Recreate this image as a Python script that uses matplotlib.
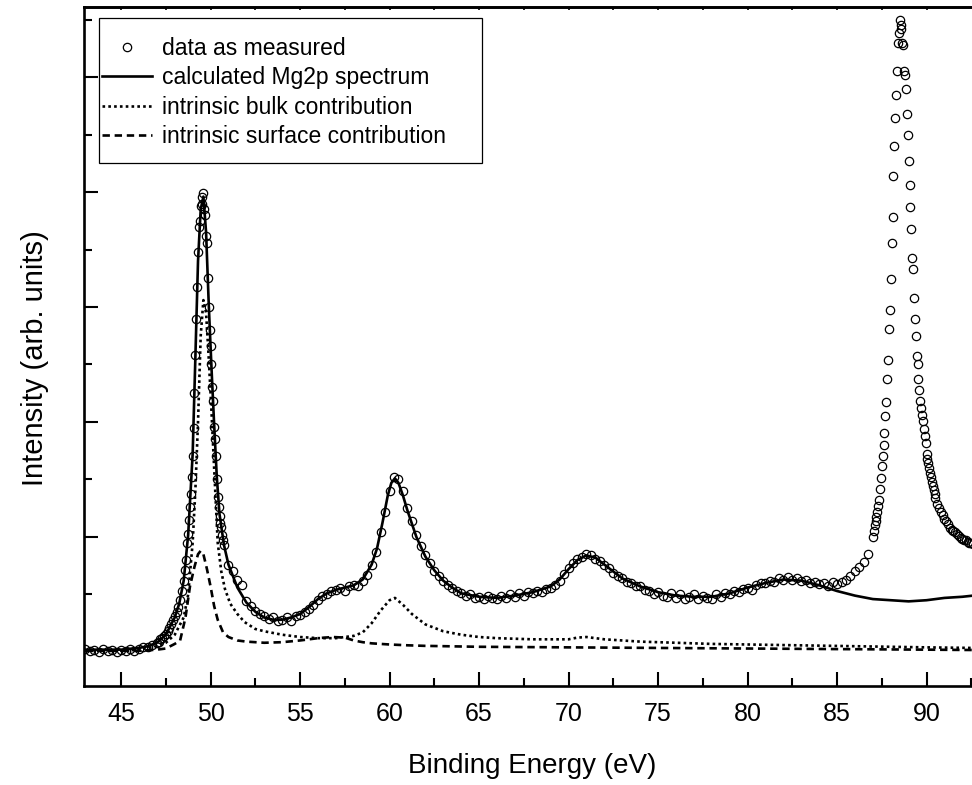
import numpy as np
import matplotlib
matplotlib.use("Agg")
import matplotlib.pyplot as plt
from matplotlib.patches import Rectangle

plt.rcParams['font.family'] = ['Liberation Sans', 'DejaVu Sans']

# measured spectrum (arb. units), sampled in segments
e_a = np.linspace(43.0, 46.75, 16)
i_a = [0.03, 0.01, 0.02, 0.00, 0.03, 0.01, 0.02, 0.00, 0.02, 0.01, 0.03, 0.01,
       0.03, 0.04, 0.04, 0.06]
e_b = np.linspace(47.0, 48.6, 17)
i_b = [0.08, 0.09, 0.11, 0.12, 0.14, 0.16, 0.18, 0.21, 0.24, 0.28, 0.31, 0.35,
       0.39, 0.45, 0.53, 0.62, 0.71]
e_c = np.linspace(48.65, 50.75, 43)
i_c = [0.80, 0.95, 1.03, 1.15, 1.26, 1.37, 1.52, 1.70, 1.95, 2.25, 2.58, 2.90,
       3.17, 3.48, 3.70, 3.75, 3.88, 3.90, 3.96, 3.99, 3.85, 3.80, 3.62, 3.56,
       3.25, 3.00, 2.80, 2.66, 2.50, 2.30, 2.18, 1.96, 1.85, 1.70, 1.50, 1.35,
       1.26, 1.18, 1.12, 1.09, 1.02, 0.97, 0.93]
e_d = np.linspace(51.0, 86.75, 144)
i_d = [0.76, 0.70, 0.63, 0.58,  0.44, 0.40, 0.36, 0.33,  0.31, 0.29, 0.30, 0.27,
       0.28, 0.30, 0.27, 0.31,  0.32, 0.35, 0.37, 0.41,  0.45, 0.49, 0.50, 0.53,
       0.54, 0.56, 0.53, 0.57,  0.58, 0.57, 0.62, 0.67,  0.76, 0.87, 1.04, 1.22,
       1.40, 1.52, 1.50, 1.40,  1.25, 1.14, 1.02, 0.92,  0.84, 0.77, 0.70, 0.66,
       0.62, 0.58, 0.56, 0.53,  0.51, 0.49, 0.50, 0.47,  0.48, 0.46, 0.49, 0.47,
       0.46, 0.49, 0.47, 0.50,  0.48, 0.51, 0.49, 0.52,  0.51, 0.53, 0.52, 0.55,
       0.56, 0.58, 0.62, 0.68,  0.73, 0.77, 0.81, 0.83,  0.85, 0.84, 0.81, 0.79,
       0.76, 0.73, 0.69, 0.66,  0.64, 0.61, 0.60, 0.57,  0.57, 0.54, 0.53, 0.50,
       0.52, 0.49, 0.48, 0.51,  0.47, 0.50, 0.46, 0.48,  0.50, 0.46, 0.49, 0.47,
       0.46, 0.50, 0.48, 0.51,  0.50, 0.53, 0.52, 0.55,  0.56, 0.54, 0.58, 0.60,
       0.60, 0.62, 0.61, 0.64,  0.63, 0.65, 0.63, 0.64,  0.62, 0.63, 0.60, 0.61,
       0.59, 0.60, 0.57, 0.61,  0.59, 0.61, 0.63, 0.66,  0.70, 0.74, 0.78, 0.85]
e_e = np.linspace(87.0, 90.5, 71)
i_e = [1.00, 1.05, 1.10, 1.14, 1.17, 1.22, 1.27, 1.32, 1.42, 1.51, 1.62, 1.70,
       1.80, 1.90, 2.05, 2.17, 2.37, 2.54, 2.81, 2.97,
       3.24, 3.56, 3.78, 4.14, 4.40, 4.64, 4.84, 5.05, 5.30, 5.38, 5.50, 5.45,
       5.42, 5.30, 5.28, 5.05, 5.02, 4.90, 4.68, 4.50,
       4.27, 4.06, 3.87, 3.68, 3.43, 3.33, 3.08, 2.90, 2.75, 2.57, 2.50, 2.37,
       2.28, 2.18, 2.12, 2.06, 2.01, 1.94, 1.88, 1.82,
       1.72, 1.68, 1.64, 1.60, 1.56, 1.52, 1.48, 1.44, 1.41, 1.37, 1.34]
e_f = np.linspace(90.6, 92.6, 21)
i_f = [1.29, 1.25, 1.22, 1.19, 1.16, 1.14, 1.11, 1.08, 1.06, 1.05, 1.04, 1.03,
       1.01, 0.99, 0.98, 0.97, 0.97, 0.96, 0.95, 0.95, 0.94]

energy = np.concatenate([e_a, e_b, e_c, e_d, e_e, e_f])
measured = np.concatenate([i_a, i_b, i_c, i_d, i_e, i_f])

# calculated Mg2p spectrum
fit_e = [43, 44, 45, 46, 46.5, 47, 47.5, 48, 48.25, 48.5, 48.75, 49.0, 49.15,
         49.3, 49.45, 49.6, 49.75, 49.9, 50.05, 50.2, 50.35, 50.5, 50.75, 51.0,
         51.5, 52, 52.5, 53, 53.5, 54, 54.5, 55, 55.5, 56, 56.5, 57, 57.5, 58,
         58.5, 59, 59.3, 59.6, 59.9, 60.1, 60.3, 60.5, 60.75, 61, 61.5, 62,
         62.5, 63, 63.5, 64, 65, 66, 67, 68, 69, 69.5, 70, 70.5, 71, 71.5, 72,
         72.5, 73, 74, 75, 76, 77, 78, 79, 80, 81, 82, 83, 84, 85, 86, 87, 88,
         89, 90, 91, 92, 92.6]
fit_i = [0.02, 0.02, 0.02, 0.035, 0.05, 0.08, 0.15, 0.30, 0.42, 0.62, 1.02, 1.72,
         2.55, 3.40, 3.85, 3.96, 3.65, 3.02, 2.48, 1.98, 1.52, 1.20, 0.93, 0.76,
         0.56, 0.43, 0.35, 0.30, 0.28, 0.28, 0.30, 0.33, 0.39, 0.46, 0.51, 0.54,
         0.56, 0.58, 0.63, 0.76, 0.90, 1.12, 1.36, 1.47, 1.51, 1.47, 1.36, 1.23,
         1.00, 0.83, 0.71, 0.62, 0.56, 0.51, 0.48, 0.47, 0.49, 0.52, 0.57, 0.63,
         0.72, 0.80, 0.84, 0.82, 0.76, 0.70, 0.64, 0.57, 0.52, 0.49, 0.48, 0.48,
         0.51, 0.56, 0.60, 0.63, 0.62, 0.58, 0.53, 0.49, 0.46, 0.45, 0.44, 0.45,
         0.47, 0.48, 0.49]

# intrinsic bulk contribution
bulk_e = [43, 45, 46, 47, 47.5, 48, 48.5, 48.75, 49.0, 49.15, 49.3, 49.45, 49.6,
          49.75, 49.9, 50.05, 50.2, 50.4, 50.6, 50.8, 51.1, 51.5, 51.9, 52.5,
          53, 54, 55, 56, 57, 58, 58.5, 59, 59.5, 60, 60.3, 60.75, 61.25, 62,
          63, 64, 65, 66, 68, 70, 70.5, 71, 71.5, 72, 74, 76, 78, 80, 82, 84,
          86, 88, 90, 92.6]
bulk_i = [0.01, 0.01, 0.02, 0.05, 0.08, 0.15, 0.30, 0.50, 0.95, 1.40, 2.00, 2.75,
          3.06, 2.95, 2.55, 2.10, 1.60, 0.95, 0.70, 0.55, 0.42, 0.33, 0.26, 0.20,
          0.18, 0.15, 0.13, 0.12, 0.12, 0.14, 0.17, 0.25, 0.36, 0.45, 0.47, 0.41,
          0.33, 0.24, 0.18, 0.15, 0.13, 0.12, 0.11, 0.11, 0.125, 0.13, 0.12, 0.11,
          0.09, 0.08, 0.07, 0.065, 0.06, 0.055, 0.05, 0.045, 0.04, 0.035]

# intrinsic surface contribution
surf_e = [43, 46, 47, 47.5, 48, 48.3, 48.6, 48.85, 49.1, 49.3, 49.45, 49.6, 49.8,
          50.0, 50.2, 50.4, 50.7, 51, 51.5, 52, 53, 54, 55, 56, 56.8, 57.5, 58,
          58.5, 59, 60, 61, 62, 65, 70, 75, 80, 85, 90, 92.6]
surf_i = [0.01, 0.01, 0.02, 0.03, 0.07, 0.10, 0.30, 0.57, 0.74, 0.85, 0.88, 0.85,
          0.72, 0.57, 0.40, 0.28, 0.17, 0.13, 0.10, 0.09, 0.08, 0.085, 0.10, 0.12,
          0.13, 0.125, 0.10, 0.085, 0.075, 0.065, 0.058, 0.053, 0.045, 0.04,
          0.035, 0.03, 0.025, 0.02, 0.017]

W, H = 972, 785
fig = plt.figure(figsize=(W / 100, H / 100), dpi=100)
ax = fig.add_axes([84 / W, 1 - 686 / H, (W - 84) / W, (686 - 7) / H])

ax.plot(energy, measured, 'o', ms=6, mfc='none', mec='black', mew=0.9,
        label='data as measured')
ax.plot(fit_e, fit_i, '-', color='black', lw=1.9,
        label='calculated Mg2p spectrum')
ax.plot(bulk_e, bulk_i, color='black', lw=1.9, ls=(0, (1, 1.2)),
        label='intrinsic bulk contribution')
ax.plot(surf_e, surf_i, color='black', lw=1.9, ls=(0, (2.8, 1.8)),
        label='intrinsic surface contribution')

ax.set_xlim(42.93, 92.54)
ax.set_ylim(-0.296, 5.609)
ax.set_xticks(np.arange(45, 91, 5))
ax.set_xticks(np.arange(47.5, 92.6, 5), minor=True)
ax.set_yticks(np.arange(1, 6, 1))
ax.set_yticks(np.arange(0.5, 5.6, 1), minor=True)
ax.tick_params(which='both', direction='in', top=False, right=False,
               labelleft=False, width=1.5, labelsize=18, pad=11.5)
ax.tick_params(which='major', length=10)
ax.tick_params(which='minor', length=5.8)
for side in ['left', 'bottom', 'top']:
    ax.spines[side].set_linewidth(1.9)
ax.spines['right'].set_visible(False)

top = ax.secondary_xaxis('top')
top.set_xticks(np.arange(45, 91, 2.5))
top.tick_params(direction='in', length=2.5, width=1.2, labeltop=False)
top.spines['top'].set_linewidth(1.9)

ax.set_xlabel('Binding Energy (eV)', fontsize=20)
ax.xaxis.set_label_coords(0.505, -0.099)
ax.set_ylabel('Intensity (arb. units)', fontsize=21)
ax.yaxis.set_label_coords(-0.039, 0.483)

leg = ax.legend(loc='upper left', bbox_to_anchor=(102 / W, 1 - 37 / H),
                bbox_transform=fig.transFigure, frameon=False, fontsize=16.5,
                borderpad=0, handlelength=2.2, handletextpad=0.4,
                labelspacing=0.28, borderaxespad=0)
fig.patches.append(Rectangle((99 / W, 1 - 163 / H), (482 - 99) / W, (163 - 18) / H,
                             transform=fig.transFigure, fill=False,
                             edgecolor='black', lw=0.9))

fig.savefig('out.png', dpi=100)
